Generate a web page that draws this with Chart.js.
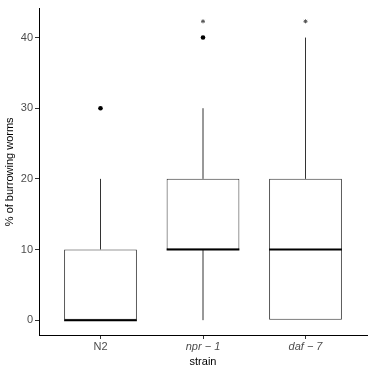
<!DOCTYPE html>
<html>
<head>
<meta charset="utf-8">
<script src="https://cdn.jsdelivr.net/npm/chart.js@4/dist/chart.umd.min.js"></script>
<style>
  html, body { margin: 0; padding: 0; background: #fff; }
  #wrap { width: 372px; height: 372px; }
</style>
</head>
<body>
<div id="wrap"><canvas id="c" width="372" height="372"></canvas></div>
<script>
// ---- data ----
const categories = ['N2', 'npr \u2212 1', 'daf \u2212 7'];
const italicLabel = [false, true, true];
const whiskerLow = [0, 0, 0];
const q1 = [0, 10, 0];
const median = [0, 10, 10];
const q3 = [10, 20, 20];
const whiskerHigh = [20, 30, 40];
const outliers = [[30], [40], []];
const significance = [null, 42.3, 42.3];
const yTicks = [0, 10, 20, 30, 40];

// ---- style constants ----
const BOX_W = 0.71;
const FONT = "'Liberation Sans', Arial, Helvetica, sans-serif";

const xs = categories.map((_, i) => i + 1);

const boxData = xs.map((x, i) => ({ x: x, y: [q1[i], q3[i]] }));

const whiskerData = [];
xs.forEach((x, i) => {
  whiskerData.push({ x: x, y: q3[i] }, { x: x, y: whiskerHigh[i] }, { x: x, y: null });
  whiskerData.push({ x: x, y: whiskerLow[i] }, { x: x, y: q1[i] }, { x: x, y: null });
});

const medianData = [];
xs.forEach((x, i) => {
  medianData.push({ x: x - BOX_W / 2, y: median[i] }, { x: x + BOX_W / 2, y: median[i] }, { x: x, y: null });
});

const outlierData = [];
xs.forEach((x, i) => outliers[i].forEach(v => outlierData.push({ x: x, y: v })));

const starData = [];
xs.forEach((x, i) => { if (significance[i] !== null) starData.push({ x: x, y: significance[i] }); });

new Chart(document.getElementById('c'), {
  data: {
    datasets: [
      {
        type: 'line', data: whiskerData, order: 4,
        borderColor: '#333333', borderWidth: 1, pointRadius: 0, spanGaps: false,
        tension: 0
      },
      {
        type: 'bar', data: boxData, order: 3,
        backgroundColor: '#ffffff', borderColor: '#333333', borderWidth: 1,
        borderSkipped: false, barPercentage: BOX_W, categoryPercentage: 1
      },
      {
        type: 'line', data: medianData, order: 2,
        borderColor: '#000000', borderWidth: 2, pointRadius: 0, spanGaps: false,
        borderCapStyle: 'butt', tension: 0
      },
      {
        type: 'scatter', data: outlierData, order: 1,
        pointRadius: 2.3, backgroundColor: '#000000', borderColor: '#000000', borderWidth: 0
      },
      {
        type: 'scatter', data: starData, order: 0,
        pointStyle: 'star', pointRadius: 2, backgroundColor: '#555555', borderColor: '#555555', borderWidth: 1
      }
    ]
  },
  options: {
    responsive: false,
    animation: false,
    events: [],
    layout: { padding: { left: 0, right: 4, top: 6, bottom: 0 } },
    plugins: { legend: { display: false }, tooltip: { enabled: false } },
    scales: {
      x: {
        type: 'linear', min: 0.4, max: 3.6, offset: false,
        afterBuildTicks: s => { s.ticks = xs.map(v => ({ value: v })); },
        afterFit: s => { s.height = 37; },
        grid: { display: true, offset: false, drawOnChartArea: false, drawTicks: true, tickLength: 4, color: '#333333' },
        border: { display: true, color: '#000000', width: 1 },
        ticks: {
          padding: 1, color: '#4d4d4d', maxRotation: 0, autoSkip: false,
          callback: v => categories[v - 1],
          font: ctx => ({ family: FONT, size: 11, style: italicLabel[ctx.index] ? 'italic' : 'normal' })
        },
        title: { display: true, text: 'strain', color: '#000000', font: { family: FONT, size: 11 }, padding: { top: 0, bottom: 3 } }
      },
      y: {
        type: 'linear', min: -2.1, max: 44.1,
        afterBuildTicks: s => { s.ticks = yTicks.map(v => ({ value: v })); },
        afterFit: s => { s.width = 39; },
        grid: { display: true, drawOnChartArea: false, drawTicks: true, tickLength: 4, color: '#333333' },
        border: { display: true, color: '#000000', width: 1 },
        ticks: { padding: 2, color: '#4d4d4d', font: { family: FONT, size: 11 } },
        title: { display: true, text: '% of burrowing worms', color: '#000000', font: { family: FONT, size: 11 }, padding: { top: 3, bottom: 0 } }
      }
    }
  }
});
</script>
</body>
</html>
